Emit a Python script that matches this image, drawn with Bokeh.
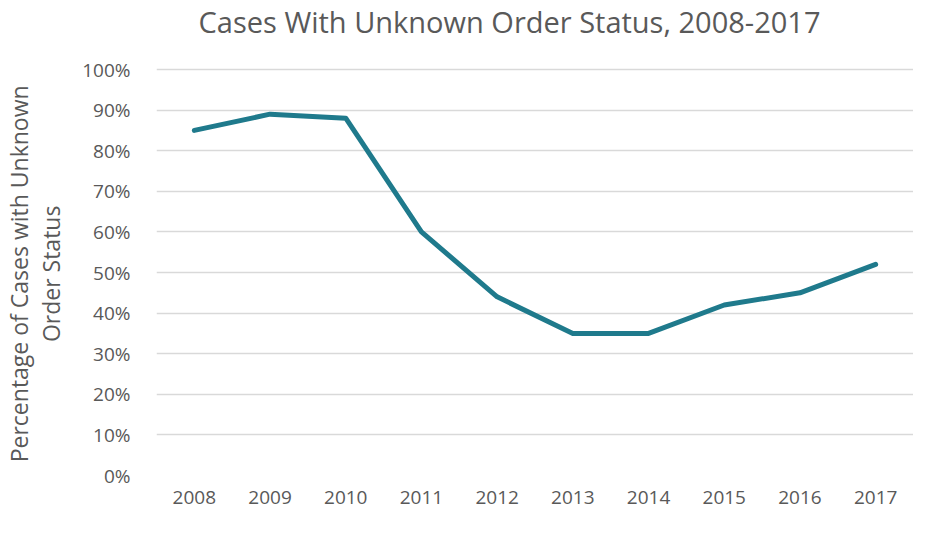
from bokeh.plotting import figure
from bokeh.models import FactorRange, Range1d, FixedTicker, CustomJSTickFormatter, Label
from bokeh.embed import file_html
from bokeh.resources import INLINE

years = ["2008", "2009", "2010", "2011", "2012", "2013", "2014", "2015", "2016", "2017"]
pct_unknown = [85, 89, 88, 60, 44, 35, 35, 42, 45, 52]
y_ticks = [0, 10, 20, 30, 40, 50, 60, 70, 80, 90, 100]
title_text = "Cases With Unknown Order Status, 2008-2017"
y_label_lines = ["Percentage of Cases with Unknown", "Order Status"]

TEXT = "#595959"
FONT = "Open Sans"
PAD = "\u00a0" * 12  # trailing non-breaking spaces: nudge the rotated label down to the 0-100% band

p = figure(
    width=913, height=519,
    x_range=FactorRange(*years, range_padding=0),
    y_range=Range1d(0, 117),  # head-room above 100% holds the chart title
    output_backend="svg", toolbar_location=None,
)
p.min_border_left = 146
p.min_border_right = 0
p.min_border_top = 0
p.min_border_bottom = 44

p.line(years, pct_unknown, line_color="#1F7A8C", line_width=5, line_join="round", line_cap="round")

# chart title, drawn in the empty top part of the frame
p.add_layout(Label(
    x=353, y=454, x_units="screen", y_units="screen",
    text=title_text, text_align="center", text_baseline="middle",
    text_font=FONT, text_font_size="29px", text_color=TEXT,
))

p.yaxis.ticker = FixedTicker(ticks=y_ticks)
p.yaxis.formatter = CustomJSTickFormatter(code="return tick + '%';")
p.yaxis.axis_label = "\n".join(line + PAD for line in y_label_lines)
p.yaxis.axis_label_text_font = FONT
p.yaxis.axis_label_text_font_style = "normal"
p.yaxis.axis_label_text_font_size = "23px"
p.yaxis.axis_label_text_line_height = 1.0
p.yaxis.axis_label_text_color = TEXT
p.yaxis.axis_label_standoff = 12

for ax in (p.xaxis, p.yaxis):
    ax.axis_line_color = None
    ax.major_tick_line_color = None
    ax.minor_tick_line_color = None
    ax.major_label_text_font = FONT
    ax.major_label_text_font_size = "19px"
    ax.major_label_text_color = TEXT
p.yaxis.major_label_standoff = 20
p.xaxis.major_label_standoff = 9

p.xgrid.grid_line_color = None
p.ygrid.grid_line_color = "#D9D9D9"
p.ygrid.grid_line_width = 1.5
p.outline_line_color = None

open("out.html", "w").write(file_html(p, INLINE))
